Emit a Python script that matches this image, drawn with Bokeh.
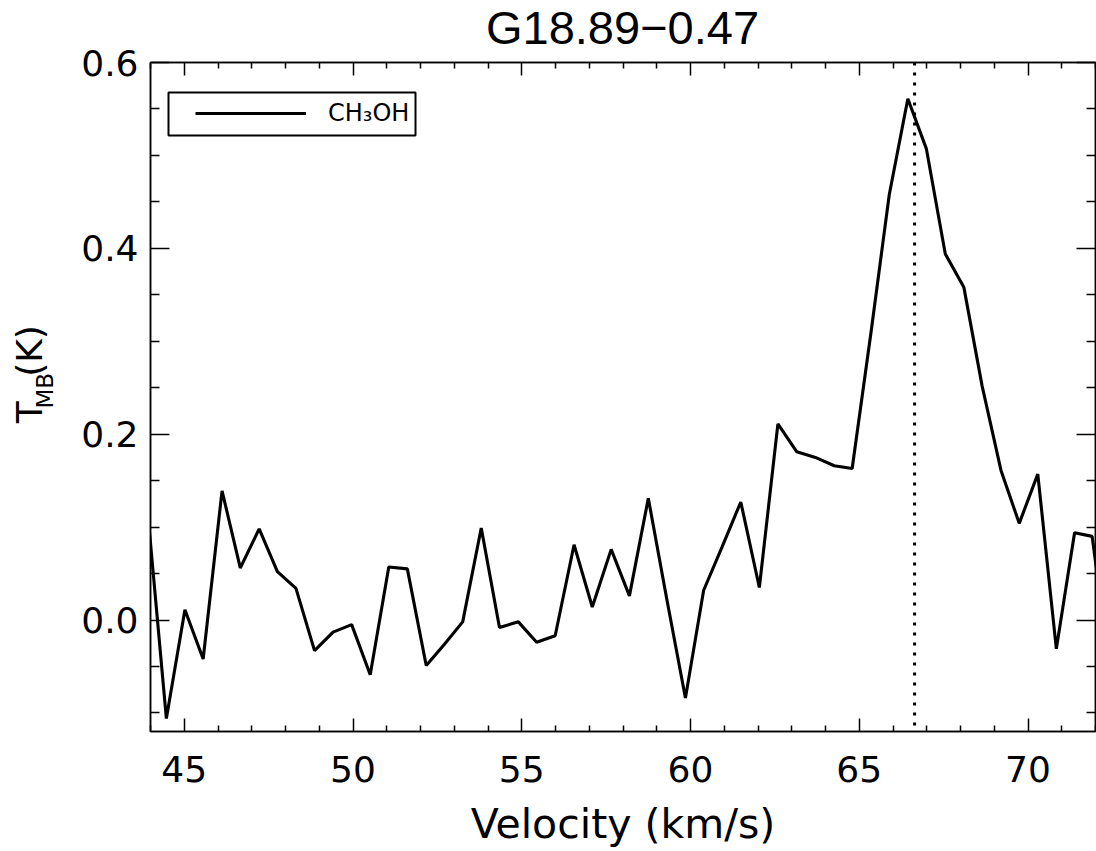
import math
from bokeh.plotting import figure
from bokeh.layouts import row, column
from bokeh.core.properties import value
from bokeh.models import (Range1d, LinearAxis, FixedTicker, PrintfTickFormatter,
                          Span, BoxAnnotation, Legend, LegendItem)
from bokeh.embed import file_html
from bokeh.resources import INLINE

# ---- data ----
velocity = [43.92, 44.47, 45.02, 45.56, 46.12, 46.66, 47.22, 47.76, 48.31, 48.86,
            49.41, 49.96, 50.51, 51.06, 51.61, 52.17, 52.71, 53.25, 53.80, 54.34,
            54.90, 55.44, 55.99, 56.55, 57.09, 57.65, 58.19, 58.75, 59.29, 59.85,
            60.39, 60.94, 61.49, 62.04, 62.59, 63.15, 63.70, 64.26, 64.79, 65.35,
            65.89, 66.44, 66.99, 67.55, 68.10, 68.64, 69.20, 69.74, 70.29, 70.84,
            71.38, 71.90, 72.45]
tmb = [0.115, -0.106, 0.011, -0.042, 0.139, 0.056, 0.098, 0.052, 0.034, -0.033,
       -0.013, -0.005, -0.059, 0.057, 0.055, -0.049, -0.026, -0.002, 0.099, -0.008,
       -0.002, -0.024, -0.017, 0.081, 0.014, 0.076, 0.026, 0.131, 0.024, -0.084,
       0.032, 0.079, 0.127, 0.035, 0.211, 0.181, 0.175, 0.166, 0.163, 0.31,
       0.458, 0.561, 0.507, 0.394, 0.358, 0.252, 0.161, 0.104, 0.157, -0.031,
       0.094, 0.090, -0.06]
v_marker = 66.64
title_text = "G18.89\u22120.47"
legend_label = "CH\u2083OH"
x_label = "Velocity (km/s)"
y_label_parts = ["T", "MB", "(K)"]
x_major = [45, 50, 55, 60, 65, 70]
x_minor = [44, 46, 47, 48, 49, 51, 52, 53, 54, 56, 57, 58, 59, 61, 62, 63, 64,
           66, 67, 68, 69, 71, 72]
y_major = [0.0, 0.2, 0.4, 0.6]
y_minor = [-0.1, -0.05, 0.05, 0.1, 0.15, 0.25, 0.3, 0.35, 0.45, 0.5, 0.55]

FONT = "DejaVu Sans"
W, H = 1096, 851
FRAME_TOP, FRAME_BOTTOM_BORDER = 62, 120
RW = 60                  # strip holding the rotated y-axis title
QW = 87                  # strip holding the y tick labels
MW = W - RW - QW         # main plot (and title strip) width
TH = 58                  # title strip height
PH = H - TH

yr = Range1d(-0.12, 0.6)
xr = Range1d(44, 72)


def blank(fig):
    fig.grid.visible = False
    fig.outline_line_color = None
    fig.background_fill_color = "white"
    fig.border_fill_color = "white"


def make_axis(kind, ticks, minors, show_labels, tin, tmin):
    ax = LinearAxis(ticker=FixedTicker(ticks=ticks, minor_ticks=minors))
    ax.axis_line_color = "black"
    ax.axis_line_width = 1.5
    ax.major_tick_line_color = "black"
    ax.minor_tick_line_color = "black"
    ax.major_tick_line_width = 1.5
    ax.minor_tick_line_width = 1.5
    ax.major_tick_in = tin
    ax.major_tick_out = 0
    ax.minor_tick_in = tmin
    ax.minor_tick_out = 0
    if kind == "x":
        ax.formatter = PrintfTickFormatter(format="%d")
    else:
        ax.formatter = PrintfTickFormatter(format="%.1f")
    if show_labels:
        ax.major_label_text_font = FONT
        ax.major_label_text_font_size = "36px"
        ax.major_label_text_color = "black"
    else:
        ax.major_label_overrides = {tk: "" for tk in ticks}
        ax.major_label_text_font_size = "1px"
        ax.major_label_standoff = 0
    return ax


# ---------------- title strip (pixel coordinates, y upward) ----------------
t = figure(width=MW, height=TH, output_backend="svg", toolbar_location=None,
           x_range=Range1d(0, MW), y_range=Range1d(0, TH),
           min_border_left=0, min_border_right=0, min_border_top=0,
           min_border_bottom=0, x_axis_location=None, y_axis_location=None)
blank(t)
t.text(x=[621 - RW - QW], y=[TH - 27], text=[title_text],
       text_font=value("Liberation Sans"), text_font_size="47px",
       text_color="black", text_align="center", text_baseline="middle")

# ---------------- main plot ----------------
p = figure(width=MW, height=PH, output_backend="svg", toolbar_location=None,
           x_range=xr, y_range=yr,
           min_border_left=150 - RW - QW, min_border_right=1,
           min_border_top=FRAME_TOP - TH, min_border_bottom=FRAME_BOTTOM_BORDER,
           x_axis_location=None, y_axis_location=None)
p.grid.visible = False
p.outline_line_color = "black"
p.outline_line_width = 1.5
p.background_fill_color = "white"
p.border_fill_color = "white"

bottom = make_axis("x", x_major, x_minor, True, 13, 6)
bottom.major_label_standoff = 24
bottom.axis_label = x_label
bottom.axis_label_text_font = FONT
bottom.axis_label_text_font_size = "41px"
bottom.axis_label_text_font_style = "normal"
bottom.axis_label_text_color = "black"
bottom.axis_label_standoff = 15
p.add_layout(bottom, "below")
p.add_layout(make_axis("x", x_major, x_minor, False, 13, 6), "above")
p.add_layout(make_axis("y", y_major, y_minor, False, 19, 9), "left")
p.add_layout(make_axis("y", y_major, y_minor, False, 19, 9), "right")

# spectrum
r = p.line(velocity, tmb, line_color="black", line_width=3.1)

# marker line
p.add_layout(Span(location=v_marker, dimension="height", line_color="black",
                  line_width=3, line_dash="3 7"))

# legend box + entry
p.add_layout(BoxAnnotation(left=18, right=265, bottom=596, top=639,
                           left_units="screen", right_units="screen",
                           bottom_units="screen", top_units="screen",
                           fill_alpha=0, line_color="black", line_alpha=1.0,
                           line_width=2))
legend = Legend(items=[LegendItem(label=legend_label, renderers=[r])],
                location=(45, 604), padding=0, margin=0, spacing=0,
                glyph_width=111, glyph_height=20, label_height=20,
                label_standoff=22, label_text_font=FONT,
                label_text_font_size="24px", label_text_color="black",
                border_line_alpha=0, background_fill_alpha=0)
p.add_layout(legend, "center")

# ---------------- y tick-label strip (shares the y range) ----------------
q = figure(width=QW, height=H, output_backend="svg", toolbar_location=None,
           x_range=Range1d(0, 1), y_range=yr,
           min_border_left=QW - 2, min_border_right=0,
           min_border_top=FRAME_TOP, min_border_bottom=FRAME_BOTTOM_BORDER,
           x_axis_location=None, y_axis_location=None)
blank(q)
qa = make_axis("y", y_major, y_minor, True, 0, 0)
qa.axis_line_color = None
qa.major_tick_line_color = None
qa.minor_tick_line_color = None
qa.major_label_standoff = 7
q.add_layout(qa, "left")

# ---------------- y-axis title strip (pixel coordinates, y upward) ----------------
s = figure(width=RW, height=H, output_backend="svg", toolbar_location=None,
           x_range=Range1d(0, RW), y_range=Range1d(0, H),
           min_border_left=0, min_border_right=0, min_border_top=0,
           min_border_bottom=0, x_axis_location=None, y_axis_location=None)
blank(s)
ang = math.pi / 2
s.text(x=[28.5], y=[H - 445], text=[y_label_parts[0]], angle=ang,
       text_font=value(FONT), text_font_size="36px", text_color="black",
       text_align="center", text_baseline="middle")
s.text(x=[44.5], y=[H - 417.5], text=[y_label_parts[1]], angle=ang,
       text_font=value(FONT), text_font_size="23px", text_color="black",
       text_align="center", text_baseline="middle")
s.text(x=[28.5], y=[H - 367], text=[y_label_parts[2]], angle=ang,
       text_font=value(FONT), text_font_size="36px", text_color="black",
       text_align="center", text_baseline="middle")

layout = row(s, q, column(t, p, spacing=0), spacing=0)
open("out.html", "w").write(file_html(layout, INLINE))
